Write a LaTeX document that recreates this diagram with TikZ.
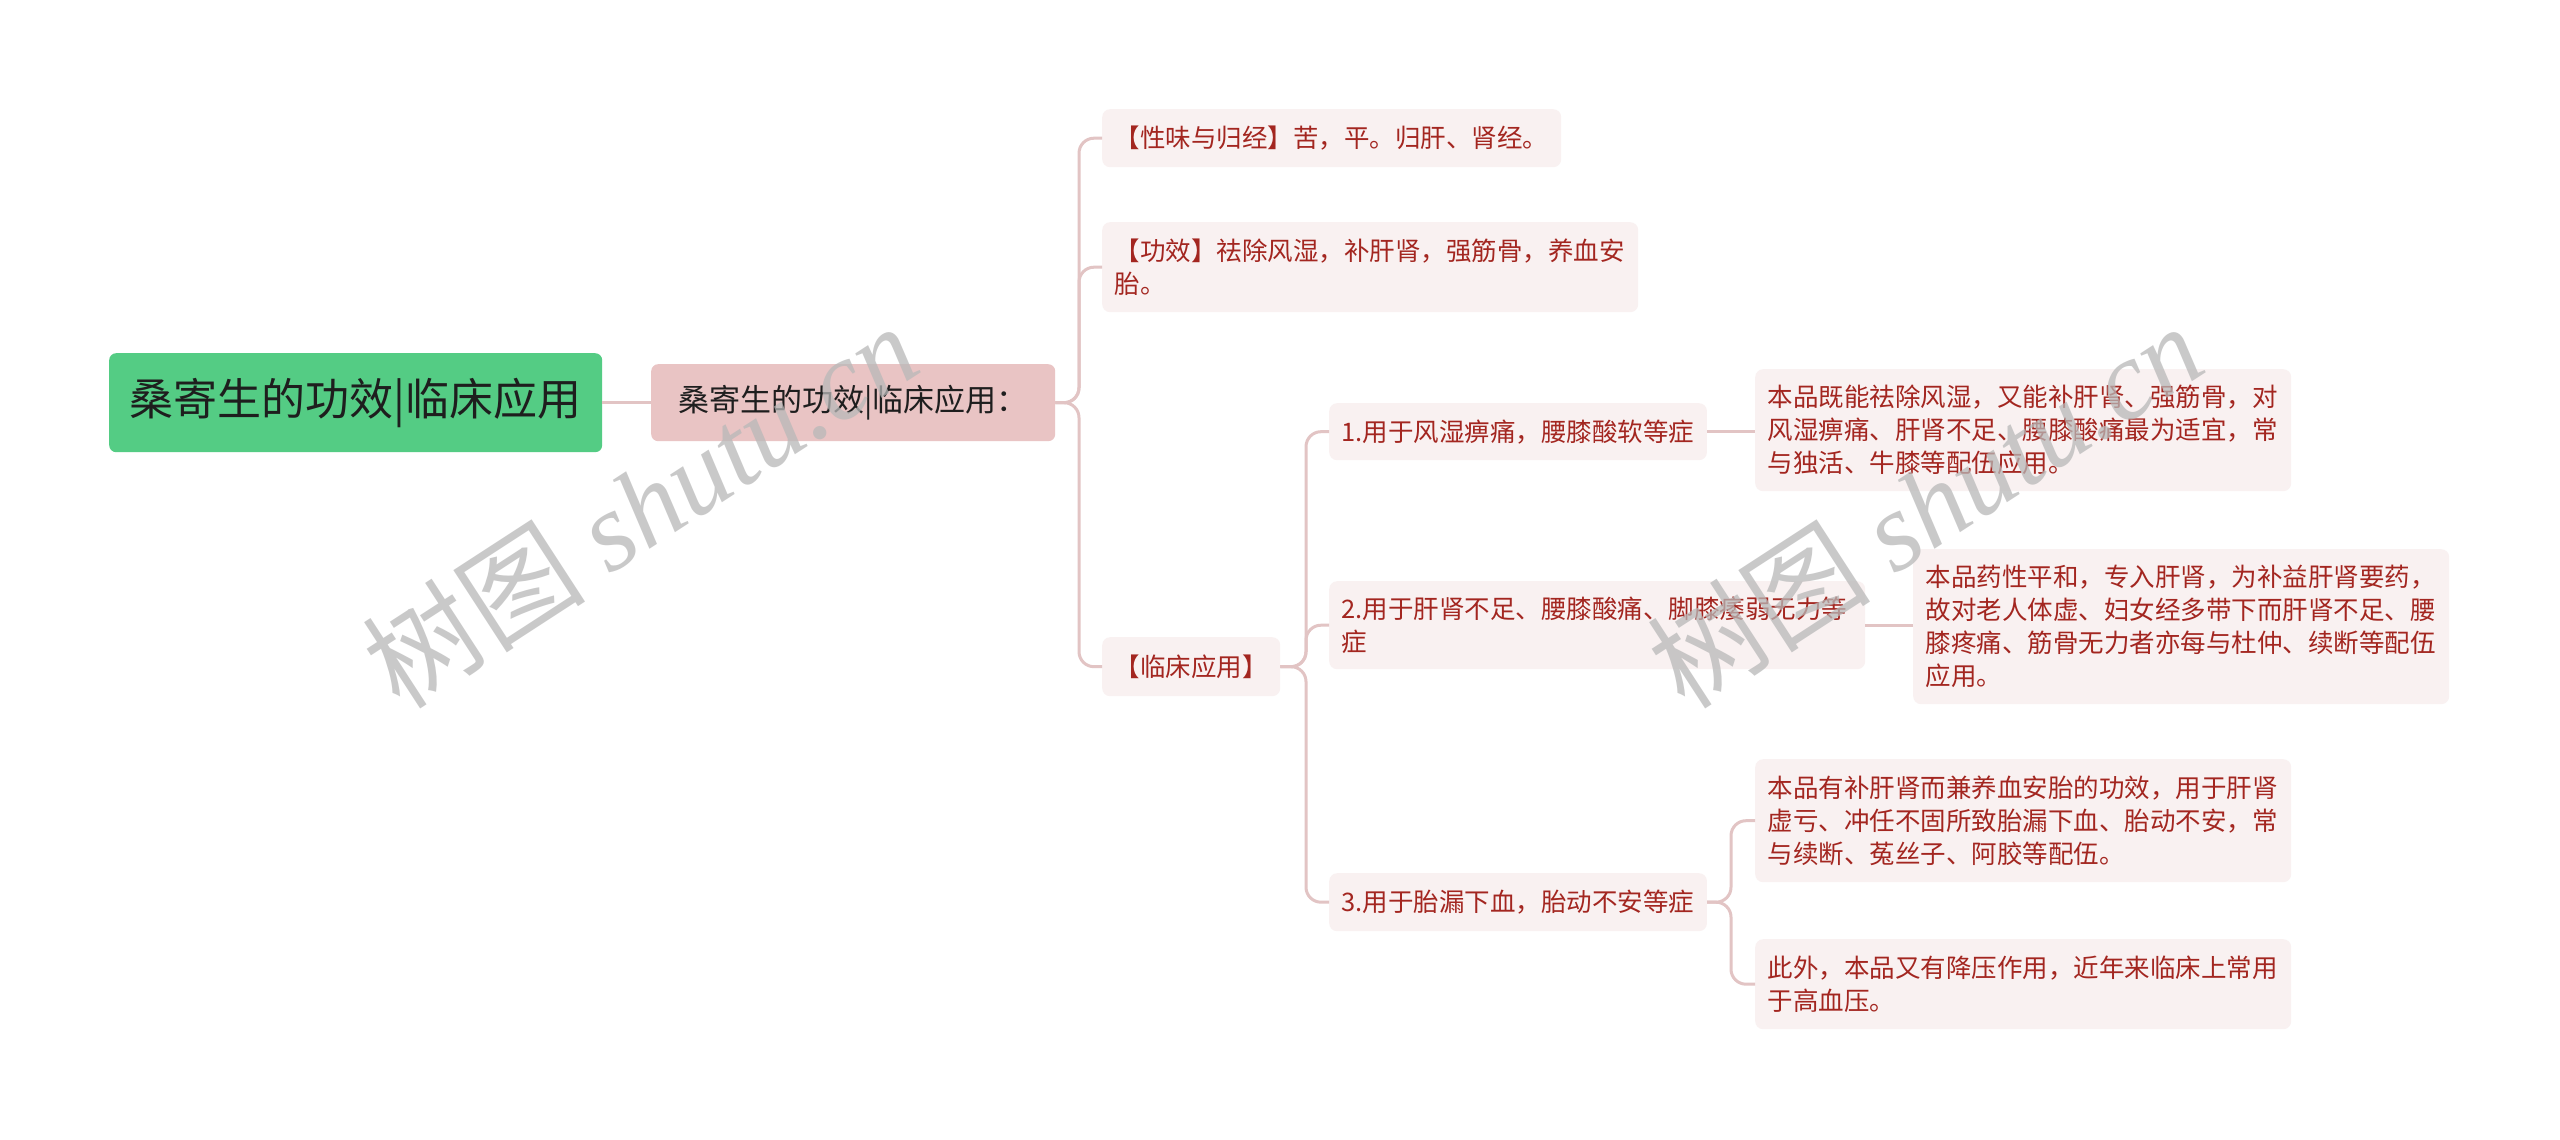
\documentclass[tikz,border=0pt]{standalone}
\usepackage{fontspec}
\setmainfont{Noto Sans CJK SC}
\newfontfamily\wmlatin{Liberation Serif}
\definecolor{rootgreen}{RGB}{84,204,132}
\definecolor{lonepink}{RGB}{233,196,196}
\definecolor{leaffill}{RGB}{249,241,241}
\definecolor{leaftext}{RGB}{163,38,32}
\definecolor{connc}{RGB}{226,196,196}
\definecolor{darktext}{RGB}{30,30,30}
\begin{document}
\begin{tikzpicture}[x=1pt,y=-1pt,
  rootbox/.style={fill=rootgreen, rounded corners=7, text=darktext, font=\fontsize{44}{50}\selectfont, inner sep=0pt},
  lonebox/.style={fill=lonepink, rounded corners=7, text=darktext, font=\fontsize{31}{38}\selectfont, inner sep=0pt},
  leaf/.style={fill=leaffill, rounded corners=8, text=leaftext, font=\fontsize{25.5}{33}\selectfont, inner xsep=12.5pt, inner ysep=0pt},
  leafw/.style={leaf, text width=511pt, align=left},
  conn/.style={draw=connc, line width=3pt, rounded corners=15pt},
  wm/.style={text=black!28, opacity=0.75, font=\fontsize{112}{112}\selectfont}
]
\useasboundingbox[fill=white] (0,0) rectangle (2560,1140);

% root and level one
\node[rootbox, anchor=north west, minimum width=493, minimum height=99] (root) at (109,353) {桑寄生的功效|临床应用};
\node[lonebox, anchor=north west, minimum width=404, minimum height=77] (lone) at (651,364) {桑寄生的功效|临床应用：};

% level two
\node[leaf, anchor=north west, minimum width=459, minimum height=58] (xw) at (1102,109) {【性味与归经】苦，平。归肝、肾经。};
\node[leafw, anchor=north west, minimum height=90] (gx) at (1102,222) {【功效】祛除风湿，补肝肾，强筋骨，养血安\\胎。};
\node[leaf, anchor=north west, minimum width=178, minimum height=59] (lc) at (1102,637) {【临床应用】};

% level three
\node[leaf, anchor=north west, minimum width=377, minimum height=57] (u1) at (1329,403) {1.用于风湿痹痛，腰膝酸软等症};
\node[leafw, anchor=north west, minimum height=88] (u2) at (1329,581) {2.用于肝肾不足、腰膝酸痛、脚膝痿弱无力等\\症};
\node[leaf, anchor=north west, minimum width=377, minimum height=58] (u3) at (1329,873) {3.用于胎漏下血，胎动不安等症};

% level four
\node[leafw, anchor=north west, minimum height=122] (a1) at (1755,369) {本品既能祛除风湿，又能补肝肾、强筋骨，对\\风湿痹痛、肝肾不足、腰膝酸痛最为适宜，常\\与独活、牛膝等配伍应用。};
\node[leafw, anchor=north west, minimum height=155] (a2) at (1913,549) {本品药性平和，专入肝肾，为补益肝肾要药，\\故对老人体虚、妇女经多带下而肝肾不足、腰\\膝疼痛、筋骨无力者亦每与杜仲、续断等配伍\\应用。};
\node[leafw, anchor=north west, minimum height=123] (a3) at (1755,759) {本品有补肝肾而兼养血安胎的功效，用于肝肾\\虚亏、冲任不固所致胎漏下血、胎动不安，常\\与续断、菟丝子、阿胶等配伍。};
\node[leafw, anchor=north west, minimum height=90] (a4) at (1755,939) {此外，本品又有降压作用，近年来临床上常用\\于高血压。};

% trunks
\coordinate (t1) at (1079,0);
\coordinate (t2) at (1306,0);
\coordinate (t3) at (1731,0);

\draw[conn] (root.east) -- (lone.west);
\draw[conn] (lone.east) -- (lone.east -| t1) |- (xw.west);
\draw[conn] (lone.east) -- (lone.east -| t1) |- (gx.west);
\draw[conn] (lone.east) -- (lone.east -| t1) |- (lc.west);
\draw[conn] (lc.east) -- (lc.east -| t2) |- (u1.west);
\draw[conn] (lc.east) -- (lc.east -| t2) |- (u2.west);
\draw[conn] (lc.east) -- (lc.east -| t2) |- (u3.west);
\draw[conn] (u1.east) -- (a1.west |- u1.east);
\draw[conn] (u2.east) -- (a2.west |- u2.east);
\draw[conn] (u3.east) -- (u3.east -| t3) |- (a3.west);
\draw[conn] (u3.east) -- (u3.east -| t3) |- (a4.west);

% watermarks
\node[wm, rotate=33] (wm1) at (640,505) {树图 {\wmlatin\itshape shutu.cn}};
\node[wm, rotate=33] (wm2) at (1925,505) {树图 {\wmlatin\itshape shutu.cn}};
\end{tikzpicture}
\end{document}
